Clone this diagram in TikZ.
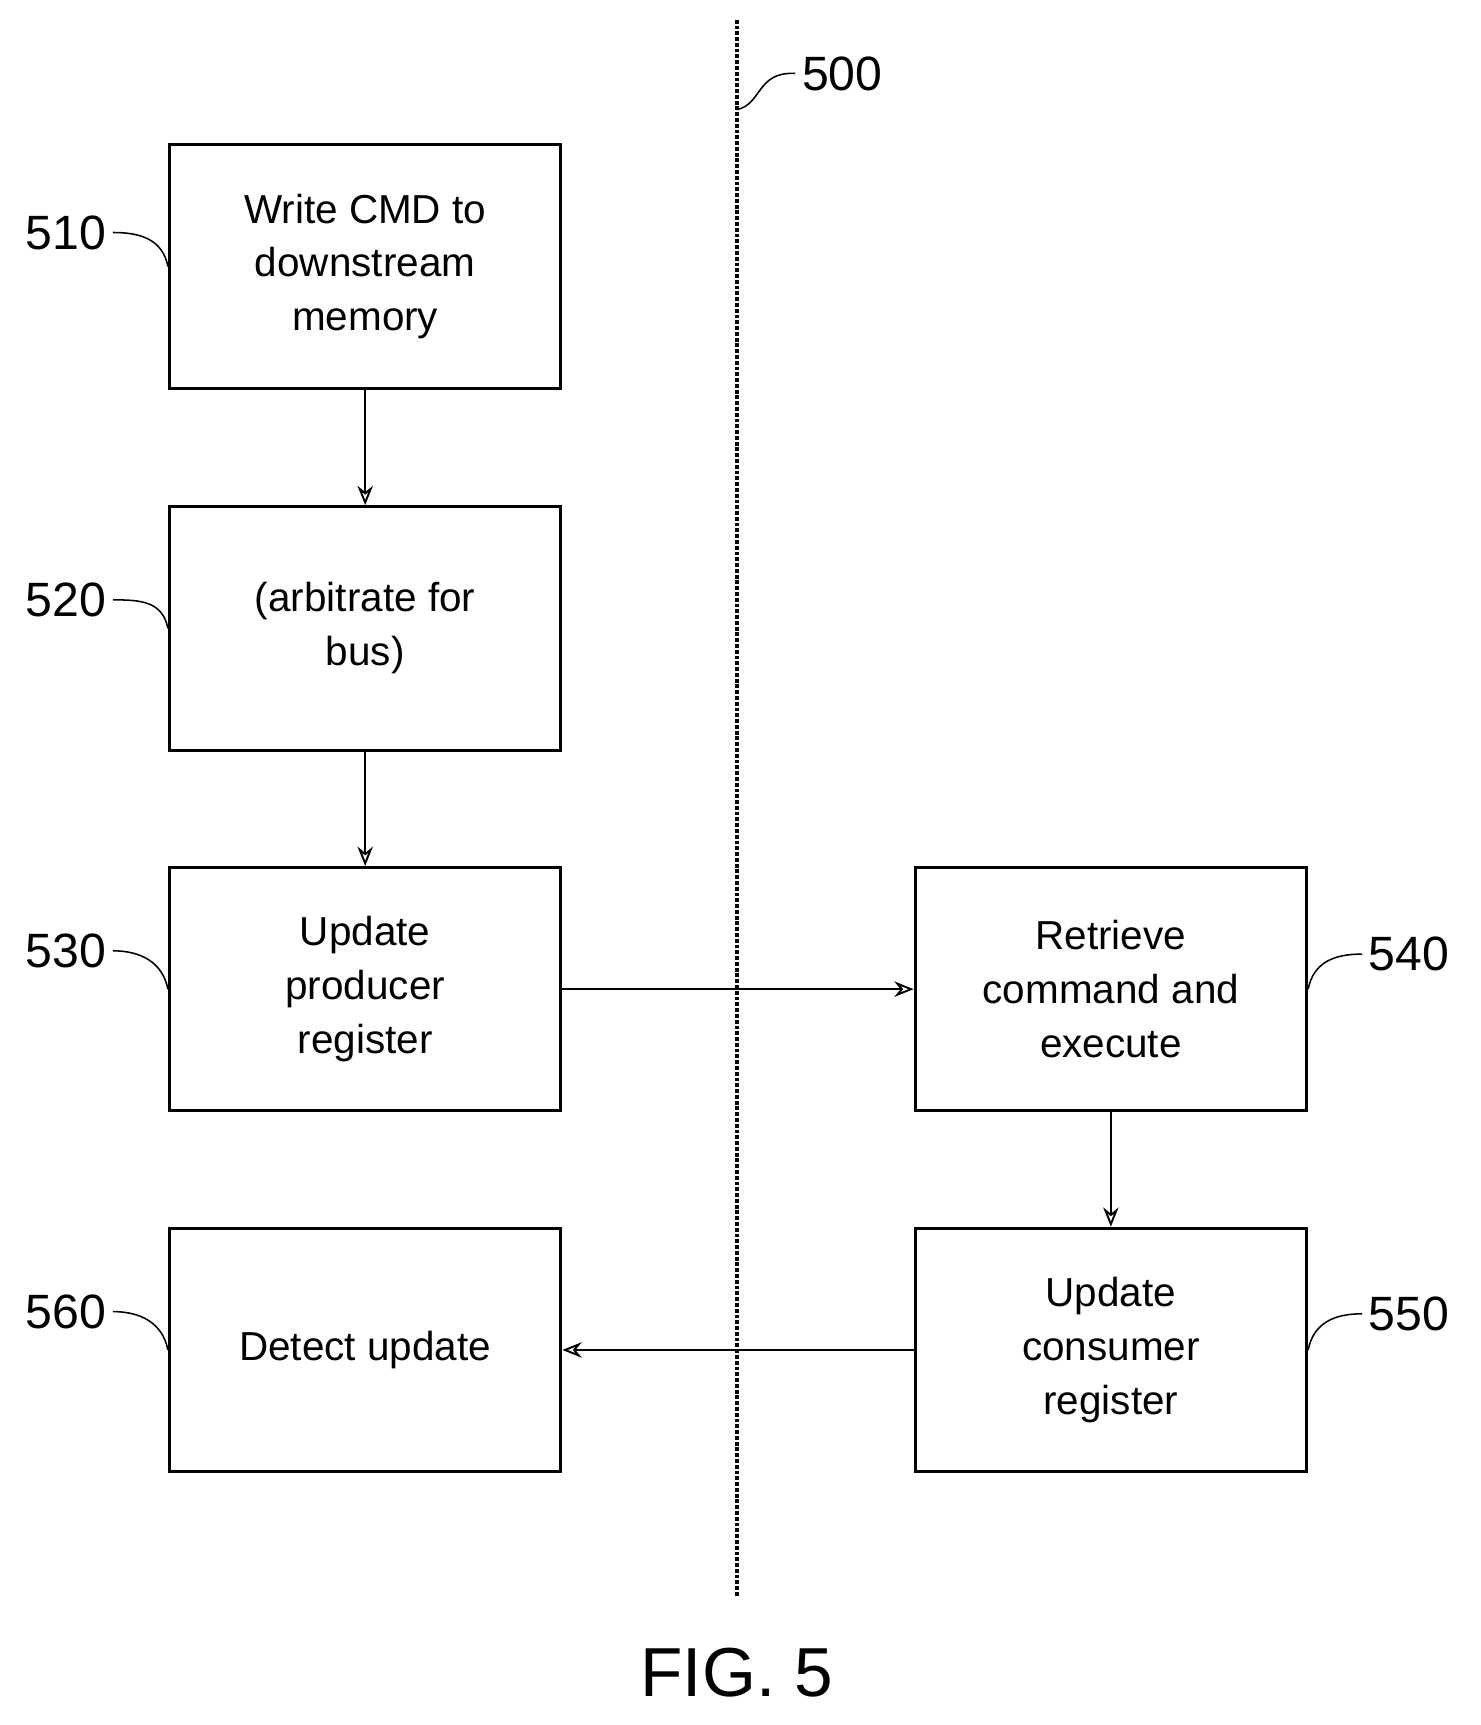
\documentclass[tikz,border=0pt]{standalone}
\usepackage{fontspec}
\setmainfont{Liberation Sans}
\usetikzlibrary{positioning,arrows.meta}
\begin{document}
\begin{tikzpicture}[x=0.02cm,y=-0.02cm,
    box/.style={draw, line width=1.6pt, minimum width=7.14cm, minimum height=4.44cm,
      align=center, font=\fontsize{21}{28}\selectfont},
    ref/.style={font=\fontsize{25}{30}\selectfont},
    flow/.style={-{Stealth[open,length=10pt,width=8pt]}, line width=1pt},
    lead/.style={line width=0.8pt}]

    \useasboundingbox (0,0) rectangle (1350,1573);

    \node[box] (510) at (333,243) {Write CMD to\\downstream\\memory};
    \node[box] (520) at (333,573) {(arbitrate for\\bus)};
    \node[box] (530) at (333,902) {Update\\producer\\register};
    \node[box] (560) at (333,1231) {Detect update};
    \node[box] (540) at (1013,902) {Retrieve\\command and\\execute};
    \node[box] (550) at (1013,1231) {Update\\consumer\\register};

    \coordinate (top) at (672,18);
    \coordinate (bot) at (672,1455);
    \draw[densely dotted, line width=2pt] (top) -- (bot);

    \node[ref] (l500) at (768,67) {500};
    \node[ref] (l510) at (60,212) {510};
    \node[ref] (l520) at (60,547) {520};
    \node[ref] (l530) at (60,867) {530};
    \node[ref] (l560) at (60,1196) {560};
    \node[ref] (l540) at (1285,870) {540};
    \node[ref] (l550) at (1285,1198) {550};
    \node[font=\fontsize{36}{40}\selectfont] (fig) at (672,1525) {FIG. 5};

    \coordinate (m500) at (672,100);
    \draw[lead] (m500) .. controls (695,95) and (690,65) .. (l500.west);
    \foreach \n in {510,520,530,560}
      \draw[lead] (l\n.east) .. controls +(25,0) and +(-5,-25) .. (\n.west);
    \foreach \n in {540,550}
      \draw[lead] (l\n.west) .. controls +(-25,0) and +(5,-25) .. (\n.east);

    \draw[flow] (510) -- (520);
    \draw[flow] (520) -- (530);
    \draw[flow] (530) -- (540);
    \draw[flow] (540) -- (550);
    \draw[flow] (550) -- (560);

\end{tikzpicture}
\end{document}
